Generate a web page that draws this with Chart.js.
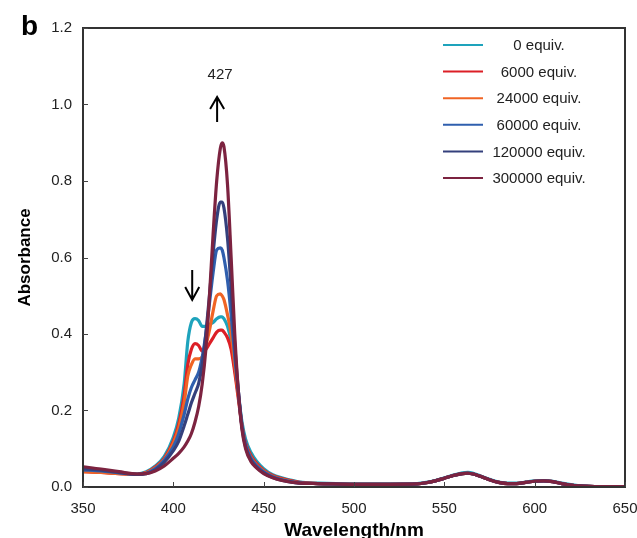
<!DOCTYPE html>
<html>
<head>
<meta charset="utf-8">
<script src="https://cdn.jsdelivr.net/npm/chart.js@4"></script>
<style>
  html, body { margin: 0; padding: 0; background: #fff; }
  #c { display: block; }
</style>
</head>
<body>
<canvas id="c" width="637" height="538"></canvas>
<script>
// ---- data ----
const wavelengths = [350,360,370,380,385,390,395,400,403,406,408,410,412,414,416,418,420,422,424,426,427,428,430,432,434,436,438,440,443,446,450,455,460,470,480,500,520,535,540,545,550,555,560,563,566,570,575,580,585,590,595,600,605,610,615,620,625,630,640,650];

const seriesLabels = ['0 equiv.', '6000 equiv.', '24000 equiv.', '60000 equiv.', '120000 equiv.', '300000 equiv.'];

const eq0 = [0.042,0.040,0.036,0.034,0.040,0.055,0.080,0.130,0.180,0.270,0.380,0.430,0.440,0.435,0.420,0.420,0.425,0.430,0.440,0.445,0.445,0.440,0.420,0.380,0.310,0.240,0.170,0.125,0.090,0.068,0.048,0.032,0.024,0.013,
  0.010,0.008,0.008,0.009,0.012,0.017,0.024,0.031,0.037,0.038,0.036,0.029,0.020,0.013,0.010,0.010,0.013,0.016,0.017,0.015,0.010,0.006,0.003,0.002,0.001,0.001];
const eq6000 = [0.040,0.038,0.035,0.033,0.038,0.052,0.075,0.120,0.165,0.240,0.320,0.360,0.375,0.370,0.355,0.360,0.375,0.390,0.405,0.410,0.410,0.405,0.390,0.360,0.300,0.230,0.160,0.115,0.082,0.062,0.044,0.030,0.022,0.012,
  0.009,0.007,0.007,0.008,0.011,0.016,0.023,0.030,0.035,0.036,0.034,0.028,0.019,0.012,0.009,0.009,0.012,0.015,0.016,0.014,0.009,0.005,0.003,0.002,0.001,0.001];
const eq24000 = [0.040,0.038,0.035,0.033,0.037,0.050,0.072,0.115,0.155,0.220,0.290,0.320,0.335,0.335,0.340,0.370,0.410,0.460,0.500,0.505,0.500,0.490,0.450,0.400,0.320,0.240,0.160,0.110,0.078,0.058,0.042,0.028,0.020,0.011,
  0.009,0.007,0.007,0.008,0.011,0.016,0.023,0.030,0.035,0.036,0.034,0.028,0.019,0.012,0.009,0.009,0.012,0.015,0.016,0.014,0.009,0.005,0.003,0.002,0.001,0.001];
const eq60000 = [0.045,0.042,0.037,0.033,0.036,0.048,0.070,0.105,0.140,0.190,0.230,0.260,0.280,0.300,0.340,0.400,0.480,0.560,0.620,0.625,0.620,0.600,0.540,0.450,0.340,0.250,0.160,0.110,0.075,0.056,0.040,0.027,0.019,0.011,
  0.009,0.007,0.007,0.008,0.011,0.016,0.023,0.030,0.035,0.036,0.034,0.028,0.019,0.012,0.009,0.009,0.012,0.015,0.016,0.014,0.009,0.005,0.003,0.002,0.001,0.001];
const eq120000 = [0.048,0.044,0.038,0.033,0.035,0.045,0.065,0.095,0.120,0.160,0.190,0.220,0.245,0.270,0.320,0.400,0.500,0.610,0.700,0.745,0.745,0.730,0.650,0.520,0.370,0.250,0.155,0.105,0.070,0.052,0.037,0.025,0.018,0.010,
  0.009,0.007,0.007,0.008,0.011,0.016,0.023,0.030,0.035,0.036,0.034,0.028,0.019,0.012,0.009,0.009,0.012,0.015,0.016,0.014,0.009,0.005,0.003,0.002,0.001,0.001];
const eq300000 = [0.053,0.047,0.040,0.034,0.035,0.042,0.055,0.075,0.088,0.105,0.120,0.140,0.170,0.210,0.270,0.360,0.500,0.660,0.800,0.885,0.900,0.890,0.790,0.600,0.400,0.250,0.150,0.100,0.066,0.050,0.035,0.024,0.017,0.010,
  0.009,0.007,0.007,0.008,0.011,0.016,0.023,0.030,0.035,0.036,0.034,0.028,0.019,0.012,0.009,0.009,0.012,0.015,0.016,0.014,0.009,0.005,0.003,0.002,0.001,0.001];

const xTicks = [350,400,450,500,550,600,650];
const yTicks = [0.0,0.2,0.4,0.6,0.8,1.0,1.2];
const peakLabel = '427';
const peakWavelength = 427;
const decreaseWavelength = 411;

// ---- styling ----
const colors = ['#1ea3bc', '#dc1f26', '#f06424', '#2f5fae', '#34407c', '#7c2340'];
const allSeries = [eq0, eq6000, eq24000, eq60000, eq120000, eq300000];
const FONT = "'Liberation Sans', Arial, sans-serif";

const datasets = allSeries.map((s, i) => ({
  label: seriesLabels[i],
  data: wavelengths.map((w, j) => ({ x: w, y: s[j] })),
  borderColor: colors[i],
  backgroundColor: colors[i],
  borderWidth: 3.2,
  pointRadius: 0,
  fill: false,
  cubicInterpolationMode: 'monotone',
  order: allSeries.length - i
}));

const decor = {
  id: 'decor',
  beforeDraw(chart) {
    const ctx = chart.ctx;
    ctx.save();
    ctx.fillStyle = '#fff';
    ctx.fillRect(0, 0, chart.width, chart.height);
    ctx.restore();
  },
  afterDraw(chart) {
    const ctx = chart.ctx;
    const a = chart.chartArea;
    const xs = chart.scales.x, ys = chart.scales.y;
    ctx.save();
    // frame
    ctx.strokeStyle = '#333';
    ctx.lineWidth = 2;
    ctx.strokeRect(a.left, a.top, a.right - a.left, a.bottom - a.top);
    // inward ticks
    ctx.lineWidth = 1;
    ctx.strokeStyle = '#444';
    yTicks.forEach(v => {
      const y = Math.round(ys.getPixelForValue(v)) + 0.5;
      ctx.beginPath(); ctx.moveTo(a.left, y); ctx.lineTo(a.left + 5, y); ctx.stroke();
    });
    xTicks.forEach(v => {
      const x = Math.round(xs.getPixelForValue(v)) + 0.5;
      ctx.beginPath(); ctx.moveTo(x, a.bottom); ctx.lineTo(x, a.bottom - 5); ctx.stroke();
    });
    // panel letter
    ctx.fillStyle = '#000';
    ctx.font = 'bold 28px ' + FONT;
    ctx.textAlign = 'left';
    ctx.textBaseline = 'alphabetic';
    ctx.fillText('b', 21, 35);
    // peak label and arrows
    const px = xs.getPixelForValue(peakWavelength) - 5;
    ctx.font = '15px ' + FONT;
    ctx.textAlign = 'center';
    ctx.textBaseline = 'middle';
    ctx.fillStyle = '#222';
    ctx.fillText(peakLabel, px + 3, 75);
    ctx.strokeStyle = '#000';
    ctx.lineWidth = 2;
    // up arrow
    ctx.beginPath();
    ctx.moveTo(px, 122); ctx.lineTo(px, 97);
    ctx.moveTo(px - 7, 109); ctx.lineTo(px, 97); ctx.lineTo(px + 7, 109);
    ctx.stroke();
    // down arrow
    const dx = xs.getPixelForValue(decreaseWavelength) - 1;
    ctx.beginPath();
    ctx.moveTo(dx, 270); ctx.lineTo(dx, 300);
    ctx.moveTo(dx - 7, 287); ctx.lineTo(dx, 300); ctx.lineTo(dx + 7, 287);
    ctx.stroke();
    // legend
    const rowY0 = 45, rowGap = 26.6;
    seriesLabels.forEach((lab, i) => {
      const y = rowY0 + i * rowGap;
      ctx.strokeStyle = colors[i];
      ctx.lineWidth = 2;
      ctx.beginPath(); ctx.moveTo(443, y); ctx.lineTo(483, y); ctx.stroke();
      ctx.fillStyle = '#222';
      ctx.font = '15px ' + FONT;
      ctx.textAlign = 'center';
      ctx.textBaseline = 'middle';
      ctx.fillText(lab, 539, y + 1);
    });
    ctx.restore();
  }
};

new Chart(document.getElementById('c'), {
  type: 'line',
  data: { datasets },
  plugins: [decor],
  options: {
    responsive: false,
    animation: false,
    devicePixelRatio: 1,
    layout: { padding: { top: 28, right: 12, left: 0, bottom: 0 } },
    plugins: { legend: { display: false }, tooltip: { enabled: false } },
    scales: {
      x: {
        type: 'linear', min: 350, max: 650,
        afterBuildTicks: s => { s.ticks = xTicks.map(v => ({ value: v })); },
        ticks: { font: { size: 15, family: FONT }, color: '#222', padding: 5, maxRotation: 0, autoSkip: false },
        grid: { display: false },
        border: { display: false },
        title: { display: true, text: 'Wavelength/nm', color: '#000',
                 font: { size: 19, weight: 'bold', family: FONT, lineHeight: 0.8 }, padding: 0 },
        afterFit: s => { s.height = 51; s.paddingRight = 0; s.paddingLeft = 0; }
      },
      y: {
        type: 'linear', min: 0, max: 1.2,
        afterBuildTicks: s => { s.ticks = yTicks.map(v => ({ value: v })); },
        ticks: { font: { size: 15, family: FONT }, color: '#222', padding: 3, callback: v => Number(v).toFixed(1) },
        grid: { display: false },
        border: { display: false },
        title: { display: true, text: 'Absorbance', color: '#000',
                 font: { size: 17, weight: 'bold', family: FONT }, padding: { top: 15, bottom: 0 } },
        afterFit: s => { s.width = 83; s.paddingTop = 0; s.paddingBottom = 0; }
      }
    }
  }
});
</script>
</body>
</html>
